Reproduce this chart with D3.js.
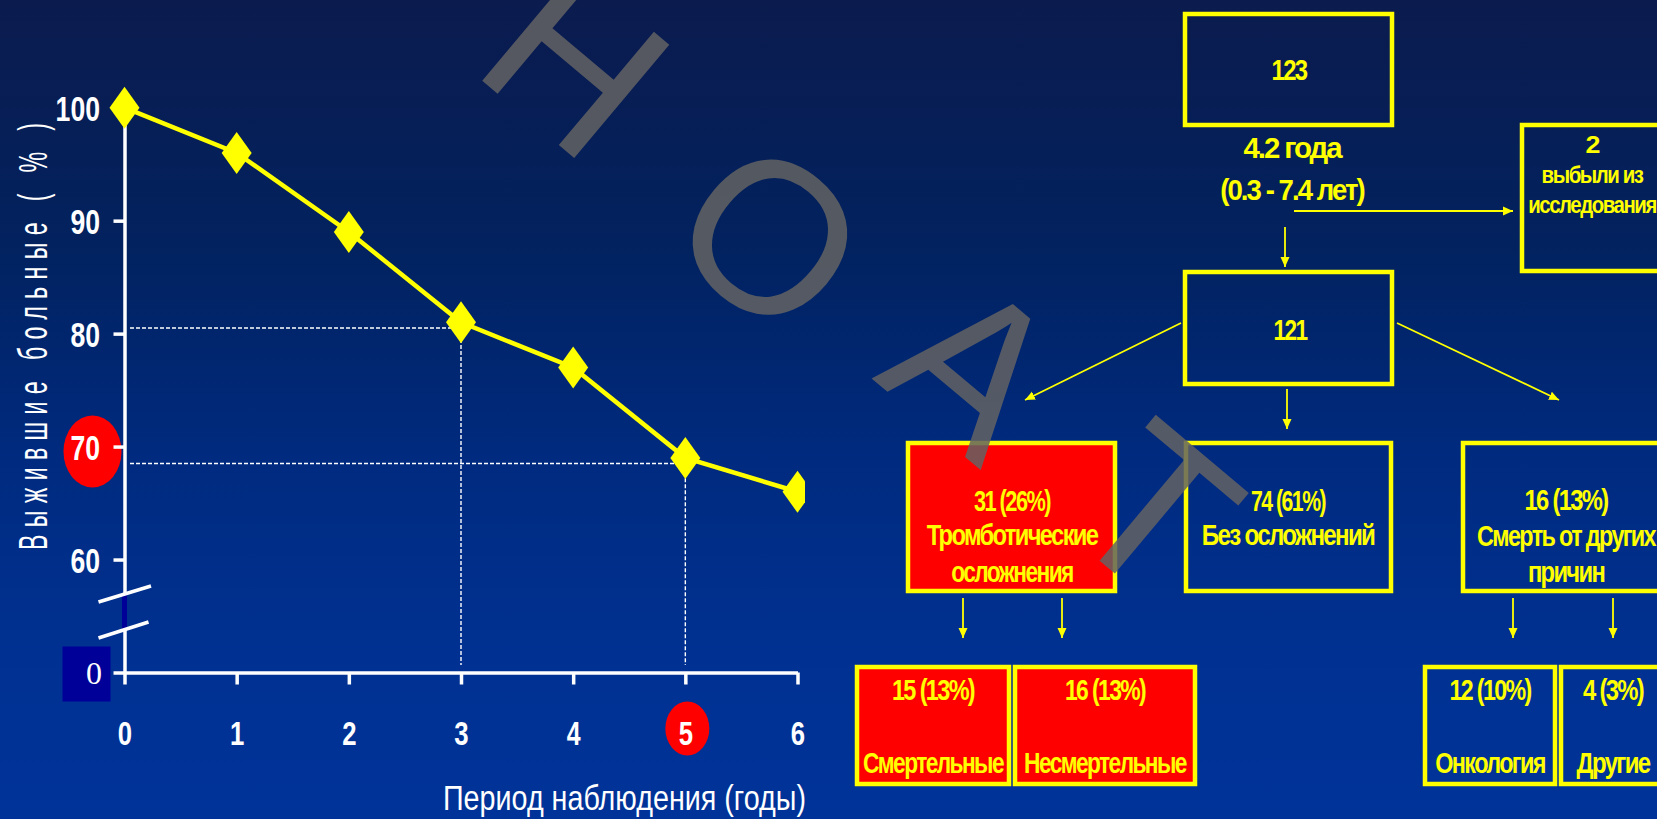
<!DOCTYPE html>
<html><head><meta charset="utf-8">
<script src="https://cdn.jsdelivr.net/npm/d3@7"></script>
<style>html,body{margin:0;padding:0;overflow:hidden;background:#00287a}</style>
</head><body>
<svg id="chart" width="1657" height="819"></svg>
<script>
// ---------- chart data ----------
const years = [0, 1, 2, 3, 4, 5, 6];
const survival = [100, 96, 89, 81, 77, 69, 66];
const yTickValues = [50, 60, 70, 80, 90, 100];
const yTickLabels = ["0", "60", "70", "80", "90", "100"];
const refYears = [3, 5];
const refSurvival = [80.5, 68.5];
const highlightYear = 5;
const highlightTick = 70;
const yTitle = "Выжившие больные ( % )";
const xTitle = "Период наблюдения (годы)";

// ---------- flowchart text ----------
const flowIds = ["n123", "stat", "n2", "n121", "n31", "n74", "n16", "n15", "n16b", "n12", "n4"];
const flowTexts = [
  ["123"],
  ["4.2 года", "(0.3 - 7.4 лет)"],
  ["2", "выбыли из", "исследования"],
  ["121"],
  ["31 (26%)", "Тромботические", "осложнения"],
  ["74 (61%)", "Без осложнений"],
  ["16 (13%)", "Смерть от других", "причин"],
  ["15 (13%)", "Смертельные"],
  ["16 (13%)", "Несмертельные"],
  ["12 (10%)", "Онкология"],
  ["4 (3%)", "Другие"]
];
const watermarkText = ["Н", "О", "А", "Т"];

// ---------- layout (positions / styles) ----------
const W = 1657, H = 819;
const flowLayout = {
  n123: {box: [1183, 12, 1394, 127], fill: "none", cx: 1289, base: [80], w: [36], fs: 30},
  stat: {box: null, cx: 1292, base: [158, 200], w: [100, 145], fs: 29},
  n2:   {box: [1520, 123, 1676, 273], fill: "none", cx: 1592, base: [153, 183, 213], w: [14, 102, 128], fs: 23},
  n121: {box: [1183, 270, 1394, 386], fill: "none", cx: 1290, base: [340], w: [34], fs: 30},
  n31:  {box: [906, 441, 1117, 593], fill: "#ff0000", cx: 1012, base: [511, 545, 582], w: [77, 172, 122], fs: 30},
  n74:  {box: [1184, 441, 1393, 593], fill: "none", cx: 1288, base: [511, 545], w: [75, 173], fs: 30},
  n16:  {box: [1461, 441, 1673, 593], fill: "none", cx: 1566, base: [510, 546, 582], w: [84, 180, 77], fs: 30},
  n15:  {box: [855, 665, 1011, 786], fill: "#ff0000", cx: 933, base: [700, 773], w: [83, 141], fs: 30},
  n16b: {box: [1013, 665, 1197, 786], fill: "#ff0000", cx: 1105, base: [700, 773], w: [81, 163], fs: 30},
  n12:  {box: [1423, 665, 1557, 786], fill: "none", cx: 1490, base: [700, 773], w: [82, 110], fs: 30},
  n4:   {box: [1559, 665, 1668, 786], fill: "none", cx: 1613, base: [700, 773], w: [61, 74], fs: 30}
};
const flowArrows = [
  [1294, 211, 1513, 211],
  [1285, 227, 1285, 267],
  [1181, 323, 1025, 400],
  [1287, 389, 1287, 429],
  [1397, 323, 1559, 400],
  [963, 598, 963, 638], [1062, 598, 1062, 638],
  [1513, 598, 1513, 638], [1613, 598, 1613, 638]
];
const watermarkPos = [[578, 60], [772, 235], [976, 365], [1157, 508]];

const sans = "'Liberation Sans',Arial,'DejaVu Sans',sans-serif";
const YELLOW = "#ffff00";

// squeeze a text horizontally so it occupies width w, anchored at (ax, ay)
function fitText(el, w, ax, ay) {
  el.attr("x", 0).attr("y", 0);
  const bw = el.node().getBBox().width;
  const s = w && bw ? w / bw : 1;
  el.attr("transform", `translate(${ax},${ay}) scale(${s},1)`);
}

const svg = d3.select("#chart");
const defs = svg.append("defs");
const grad = defs.append("linearGradient").attr("id", "bg")
  .attr("x1", 0).attr("y1", 0).attr("x2", 0).attr("y2", 1);
[[0, "#0b1b4e"], [0.3, "#02225f"], [0.55, "#002a7e"], [0.8, "#003192"], [1, "#003399"]]
  .forEach(([o, c]) => grad.append("stop").attr("offset", o).attr("stop-color", c));
defs.append("clipPath").attr("id", "leftClip")
  .append("rect").attr("x", 0).attr("y", 0).attr("width", 805).attr("height", H);
defs.append("marker").attr("id", "arrow").attr("markerUnits", "userSpaceOnUse")
  .attr("viewBox", "0 -5 10 10").attr("refX", 10).attr("refY", 0)
  .attr("markerWidth", 10).attr("markerHeight", 10).attr("orient", "auto")
  .append("path").attr("d", "M0,-4.5L10,0L0,4.5Z").attr("fill", YELLOW);

svg.append("rect").attr("width", W).attr("height", H).attr("fill", "url(#bg)");

// ---------- left chart ----------
const x = d3.scaleLinear().domain([0, 6]).range([124.5, 797.5]);
const y = d3.scaleLinear().domain([50, 100]).range([672.5, 107.7]);

// highlight ellipses and the "0" box
svg.append("ellipse").attr("cx", x(0) - 32).attr("cy", y(highlightTick) + 5)
  .attr("rx", 29).attr("ry", 36).attr("fill", "#ff0000");
svg.append("ellipse").attr("cx", x(highlightYear) + 2).attr("cy", y(50) + 56)
  .attr("rx", 22).attr("ry", 27).attr("fill", "#ff0000");
svg.append("rect").attr("x", x(0) - 62).attr("y", y(50) - 26)
  .attr("width", 48).attr("height", 55).attr("fill", "#000099");

// axes
const yAxis = d3.axisLeft(y).tickValues(yTickValues)
  .tickFormat((d, i) => yTickLabels[i]).tickSize(11).tickPadding(13.5).tickSizeOuter(0);
const gy = svg.append("g").attr("transform", `translate(${x(0)},0)`).call(yAxis);
const xAxis = d3.axisBottom(x).tickValues(years).tickFormat(d3.format("d"))
  .tickSize(12).tickSizeOuter(0);
const gx = svg.append("g").attr("transform", `translate(0,${y(50)})`).call(xAxis);

[gy, gx].forEach(g => {
  g.selectAll("path.domain").attr("stroke", "#fff").attr("stroke-width", 3.5);
  g.selectAll(".tick line").attr("stroke", "#fff").attr("stroke-width", 3.5);
  g.selectAll(".tick text").attr("fill", "#fff").style("font-family", sans)
    .style("font-weight", "bold").style("font-size", "35px");
});
gy.selectAll(".tick text").attr("dy", "0.36em").each(function (d) {
  if (d === 50) return;
  const t = d3.select(this);
  fitText(t, String(t.text()).length * 14.8, -24.5, 0);
});
gx.selectAll(".tick text").attr("dy", null).style("font-size", "33px").each(function () {
  const t = d3.select(this);
  fitText(t, 14.3, 0, 72.5);
});
// the broken-axis "0" label
gy.selectAll(".tick text").filter(d => d === 50)
  .attr("x", -30.5).attr("text-anchor", "middle")
  .style("font-family", "'Liberation Serif','DejaVu Serif',serif")
  .style("font-weight", "normal").style("font-size", "32px").attr("dy", "0.33em");

// axis break
svg.append("rect").attr("x", x(0) - 2.5).attr("y", 594).attr("width", 5).attr("height", 35)
  .attr("fill", "#000099");
svg.append("path")
  .attr("d", `M${x(0) - 26},602L${x(0) + 26.5},586M${x(0) - 26},638L${x(0) + 24},622`)
  .attr("stroke", "#fff").attr("stroke-width", 3.5).attr("fill", "none");

// axis titles
svg.append("g").attr("transform", "translate(47,336.5) rotate(-90) scale(0.58,1)")
  .append("text").attr("text-anchor", "middle").attr("fill", "#fff")
  .style("font-family", sans).style("font-size", "40px")
  .attr("textLength", 427 / 0.58).attr("lengthAdjust", "spacing").text(yTitle);
const xt = svg.append("text").attr("fill", "#fff")
  .style("font-family", sans).style("font-size", "35px").text(xTitle);
fitText(xt, 363, 443, 810);

// reference dashed lines
const refs = refYears.map((yr, i) => ({yr, v: refSurvival[i]}));
svg.append("g").selectAll("path").data(refs).join("path")
  .attr("d", d => `M${x(0) + 5.5},${y(d.v)}H${x(d.yr)}V${y(50) - 7.5}`)
  .attr("fill", "none").attr("stroke", "#fff").attr("stroke-width", 1.4)
  .attr("stroke-dasharray", "4,2");

// survival line + diamonds
const pts = years.map((yr, i) => ({yr, v: survival[i]}));
const plot = svg.append("g").attr("clip-path", "url(#leftClip)");
plot.append("path").datum(pts)
  .attr("d", d3.line().x(d => x(d.yr)).y(d => y(d.v)))
  .attr("fill", "none").attr("stroke", YELLOW).attr("stroke-width", 4.5);
plot.selectAll("path.pt").data(pts).join("path").attr("class", "pt")
  .attr("transform", d => `translate(${x(d.yr)},${y(d.v)})`)
  .attr("d", "M0,-21L15,0L0,21L-15,0Z").attr("fill", YELLOW);

// ---------- flowchart ----------
const fg = svg.append("g");
fg.selectAll("line").data(flowArrows).join("line")
  .attr("x1", d => d[0]).attr("y1", d => d[1]).attr("x2", d => d[2]).attr("y2", d => d[3])
  .attr("stroke", YELLOW).attr("stroke-width", 1.8).attr("marker-end", "url(#arrow)");

flowIds.forEach((id, i) => {
  const L = flowLayout[id];
  if (L.box) {
    const [x0, y0, x1, y1] = L.box;
    fg.append("rect").attr("x", x0 + 2).attr("y", y0 + 2)
      .attr("width", x1 - x0 - 4).attr("height", y1 - y0 - 4)
      .attr("fill", L.fill).attr("stroke", YELLOW).attr("stroke-width", 4.5);
  }
  flowTexts[i].forEach((t, j) => {
    const el = fg.append("text").attr("text-anchor", "middle").attr("fill", YELLOW)
      .style("font-family", sans).style("font-weight", "bold")
      .style("letter-spacing", "-0.07em")
      .style("font-size", L.fs + "px").text(t);
    fitText(el, L.w[j], L.cx, L.base[j]);
  });
});

// ---------- watermark ----------
svg.append("g").selectAll("text").data(watermarkText).join("text")
  .attr("transform", (d, i) => `translate(${watermarkPos[i][0]},${watermarkPos[i][1]}) rotate(40)`)
  .attr("text-anchor", "middle").attr("dy", "0.36em")
  .attr("fill", "#636363").attr("fill-opacity", 0.85)
  .style("font-family", sans).style("font-size", "215px").text(d => d);
</script>
</body></html>
